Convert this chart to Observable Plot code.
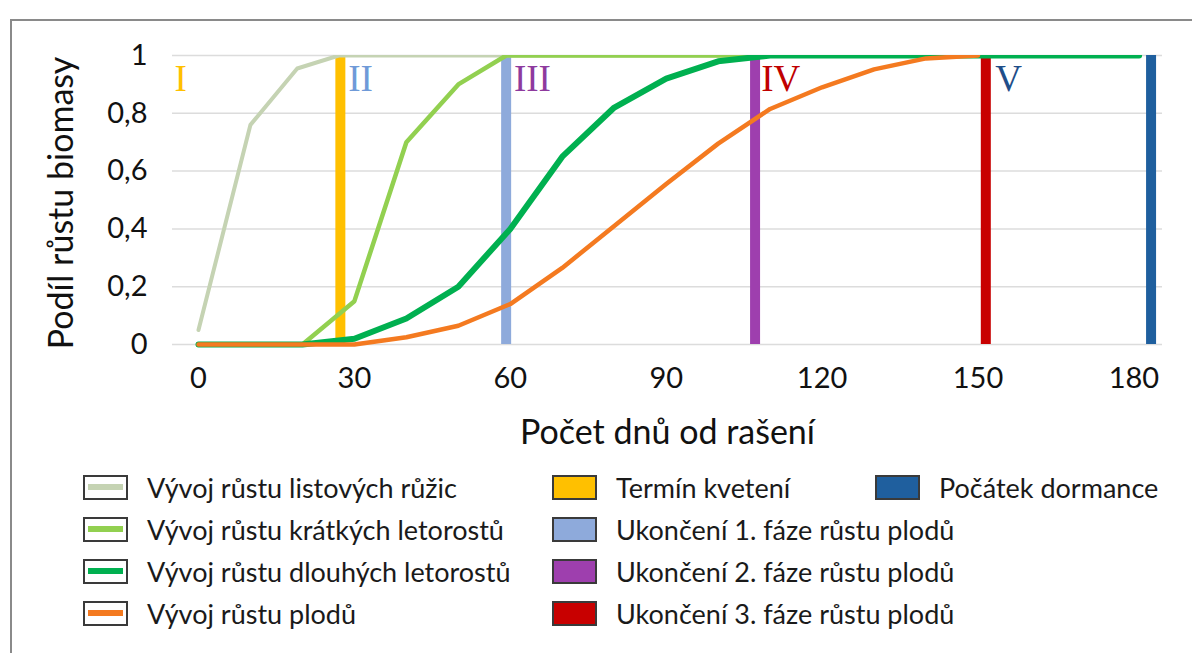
<!DOCTYPE html>
<html><head><meta charset="utf-8">
<script src="https://cdn.jsdelivr.net/npm/d3@7"></script>
<script src="https://cdn.jsdelivr.net/npm/@observablehq/plot@0.6"></script>
<style>
html,body{margin:0;padding:0;background:#fff;}
#wrap{position:relative;width:1192px;height:653px;overflow:hidden;font-family:Lato,sans-serif;background:#fff;}
#border{position:absolute;left:10px;top:19px;width:2000px;height:2000px;border-left:2px solid #8a8a8a;border-top:2px solid #8a8a8a;}
#chart{position:absolute;left:0;top:0;}
.leg{position:absolute;display:flex;align-items:center;height:34px;font-size:27px;color:#1a1a1a;white-space:nowrap;}
.sw{box-sizing:border-box;width:45px;height:25px;border:2px solid #3a3a3a;margin-right:19px;position:relative;background:#fff;flex:none;}
.sw .ln{position:absolute;left:3px;right:3px;top:50%;height:6px;margin-top:-3px;}
</style></head><body>
<div id="wrap"><div id="border"></div><div id="chart"></div></div>
<script>
// ---- data ----
const xTicks = [0, 30, 60, 90, 120, 150, 180];
const yTicks = [0, 0.2, 0.4, 0.6, 0.8, 1];

const seriesNames = ["Vývoj růstu listových růžic", "Vývoj růstu krátkých letorostů", "Vývoj růstu dlouhých letorostů", "Vývoj růstu plodů"];
const seriesColors = ["#c5d3b3", "#92d050", "#00b050", "#f47a20"];
const seriesWidths = [4, 4.5, 6, 4.5];

const rosetteDays  = [0, 10, 19, 27, 181];
const rosetteShare = [0.05, 0.76, 0.955, 1, 1];
const shortDays    = [20, 30, 40, 50, 59.2, 181];
const shortShare   = [0, 0.15, 0.70, 0.90, 1, 1];
const longDays     = [0, 20, 30, 40, 50, 60, 70, 80, 90, 100, 110, 181];
const longShare    = [0, 0, 0.02, 0.09, 0.20, 0.40, 0.65, 0.82, 0.92, 0.98, 1, 1];
const fruitDays    = [0, 10, 20, 30, 40, 50, 60, 70, 80, 90, 100, 110, 120, 130, 140, 150];
const fruitShare   = [0, 0, 0, 0, 0.025, 0.065, 0.14, 0.265, 0.41, 0.555, 0.695, 0.815, 0.89, 0.952, 0.99, 1];

const eventNames  = ["Termín kvetení", "Ukončení 1. fáze růstu plodů", "Ukončení 2. fáze růstu plodů", "Ukončení 3. fáze růstu plodů", "Počátek dormance"];
const eventDays   = [27.3, 59.2, 107.1, 151.5, 183.3];
const eventColors = ["#ffc000", "#8eaadb", "#9e3fae", "#c80000", "#1f5f9e"];

const phaseNumerals = ["I", "II", "III", "IV", "V"];
const phaseLabelDays = [-4.6, 28.8, 60.7, 108.3, 153.3];
const phaseColors = ["#ffc000", "#6f9ad8", "#8e3a9e", "#c00000", "#1f4e89"];

const xTitle = "Počet dnů od rašení";
const yTitle = "Podíl růstu biomasy";

// ---- build tables ----
const seriesDays = [rosetteDays, shortDays, longDays, fruitDays];
const seriesShare = [rosetteShare, shortShare, longShare, fruitShare];
const seriesTables = seriesDays.map((ds, s) => ds.map((d, i) => ({day: d, share: seriesShare[s][i]})));
const events = eventNames.map((n, i) => ({name: n, day: eventDays[i], color: eventColors[i]}));
const phases = phaseNumerals.map((t, i) => ({text: t, day: phaseLabelDays[i], color: phaseColors[i]}));

const marks = [
  Plot.ruleY(yTicks, {stroke: "#dcdcdc", strokeWidth: 1.5}),
  ...events.map(e => Plot.ruleX([e], {x: "day", y1: 0, y2: 1, stroke: e.color, strokeWidth: 10})),
  ...seriesTables.map((t, s) => Plot.line(t, {x: "day", y: "share", stroke: seriesColors[s], strokeWidth: seriesWidths[s], strokeLinejoin: "round", clip: true})),
  Plot.text(phases, {x: "day", text: "text", fill: "color", frameAnchor: "top", dy: 35, lineAnchor: "bottom", textAnchor: "start", fontSize: 37, fontFamily: "Liberation Serif"}),
  Plot.axisY({ticks: yTicks, tickSize: 0, tickPadding: 25, fontSize: 29, label: null, tickFormat: d => String(d).replace(".", ",")}),
  Plot.axisX({ticks: xTicks, tickSize: 0, tickPadding: 17, fontSize: 29, label: null}),
  Plot.text([xTitle], {text: d => d, frameAnchor: "bottom", dy: 83, lineAnchor: "middle", textAnchor: "middle", fontSize: 34}),
  Plot.text([yTitle], {text: d => d, frameAnchor: "left", dx: -110, rotate: -90, lineAnchor: "middle", textAnchor: "middle", fontSize: 34})
];

const chart = Plot.plot({
  width: 1192,
  height: 460,
  marginLeft: 172,
  marginRight: 30,
  marginTop: 55,
  marginBottom: 110,
  x: {domain: [-5, 185.5]},
  y: {domain: [0, 1], range: [344, 55]},
  style: {fontFamily: "Lato, sans-serif", color: "#111", background: "transparent", overflow: "visible"},
  marks
});
document.getElementById("chart").appendChild(chart);

// ---- legend ----
const wrap = document.getElementById("wrap");
const rowCenters = [487, 529, 571, 613];
function addItem(left, row, swatch, label) {
  const d = document.createElement("div");
  d.className = "leg";
  d.style.left = left + "px";
  d.style.top = (rowCenters[row] - 17) + "px";
  d.appendChild(swatch);
  const s = document.createElement("span");
  s.textContent = label;
  d.appendChild(s);
  wrap.appendChild(d);
}
seriesNames.forEach((n, i) => {
  const sw = document.createElement("div"); sw.className = "sw";
  const ln = document.createElement("div"); ln.className = "ln"; ln.style.background = seriesColors[i];
  sw.appendChild(ln);
  addItem(83, i, sw, n);
});
events.forEach((e, i) => {
  const sw = document.createElement("div"); sw.className = "sw";
  sw.style.background = e.color;
  if (i < 4) addItem(552, i, sw, e.name);
  else addItem(875, 0, sw, e.name);
});
</script>
</body></html>
